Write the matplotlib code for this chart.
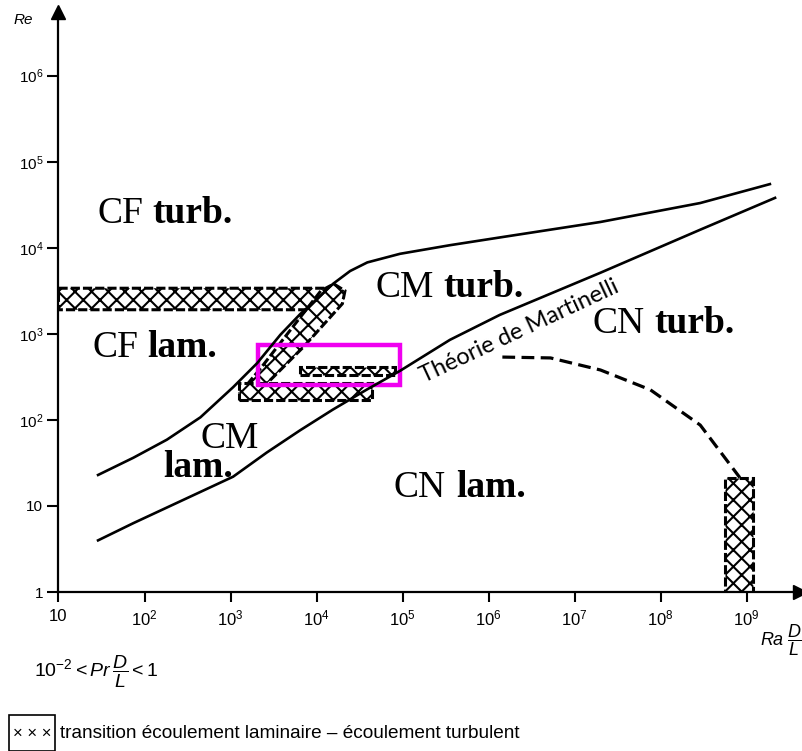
import numpy as np
import matplotlib.pyplot as plt
from matplotlib.patches import Rectangle
from matplotlib.ticker import FixedLocator, FixedFormatter, NullLocator

plt.rcParams['font.family'] = ['Liberation Sans', 'DejaVu Sans']
plt.rcParams['mathtext.fontset'] = 'custom'
plt.rcParams['mathtext.rm'] = 'Liberation Sans'
plt.rcParams['mathtext.it'] = 'Liberation Sans:italic'
plt.rcParams['hatch.linewidth'] = 1.5

# curves, as log10 values
upper_lx = [1.46, 1.87, 2.26, 2.65, 3.03, 3.31, 3.58, 3.81, 4.01, 4.19, 4.39, 4.59, 4.97, 5.55, 6.13, 7.30, 8.46, 9.27]
upper_ly = [1.36, 1.56, 1.77, 2.03, 2.38, 2.66, 2.99, 3.23, 3.41, 3.58, 3.73, 3.83, 3.93, 4.03, 4.12, 4.30, 4.52, 4.74]
lower_lx = [1.46, 1.87, 2.45, 3.03, 3.42, 3.81, 4.19, 4.58, 4.97, 5.55, 6.13, 7.30, 8.46, 9.33]
lower_ly = [0.60, 0.80, 1.07, 1.34, 1.62, 1.88, 2.12, 2.35, 2.57, 2.93, 3.22, 3.71, 4.21, 4.58]
dash_lx = [6.16, 6.72, 7.30, 7.88, 8.46, 8.92]
dash_ly = [2.73, 2.72, 2.58, 2.35, 1.94, 1.33]

# transition zones (log10 polygons)
cf_band_lx = [1.0, 4.15, 4.26, 4.30, 4.25, 4.15, 1.0]
cf_band_ly = [3.53, 3.53, 3.50, 3.41, 3.31, 3.28, 3.28]
cm_band_lx = [3.10, 3.35, 3.70, 4.05, 4.20, 4.33, 4.30, 3.85, 3.45, 3.25]
cm_band_ly = [2.30, 2.60, 3.05, 3.50, 3.58, 3.50, 3.35, 2.85, 2.45, 2.30]
cm_low_lx = [3.10, 4.65, 4.65, 3.10]
cm_low_ly = [2.23, 2.23, 2.43, 2.43]
cm_mid_lx = [3.81, 4.91, 4.91, 3.81]
cm_mid_ly = [2.52, 2.52, 2.62, 2.62]
cn_band_lx = [8.75, 9.07, 9.07, 8.75]
cn_band_ly = [0.0, 0.0, 1.33, 1.33]

# highlight box
box_lx = [3.32, 4.97]
box_ly = [2.41, 2.87]

x_ticks = [1, 2, 3, 4, 5, 6, 7, 8, 9]
x_labels = ['10'] + [r'$10^{%d}$' % k for k in range(2, 10)]
y_ticks = [0, 1, 2, 3, 4, 5, 6]
y_labels = ['1', '10'] + [r'$10^{%d}$' % k for k in range(2, 7)]

# region labels: (log x of left edge, log y of baseline, caps, lower-case part)
regions = [
    (1.45, 4.29, 'CF', 'turb.'),
    (1.39, 2.73, 'CF', 'lam.'),
    (4.68, 3.43, 'CM', 'turb.'),
    (7.21, 3.01, 'CN', 'turb.'),
    (4.90, 1.10, 'CN', 'lam.'),
]


def p(v):
    return 10 ** np.asarray(v, dtype=float)


fig = plt.figure(figsize=(8.02, 7.51), dpi=100)
ax = fig.add_axes([58.5 / 802, 159 / 751, 741.5 / 802, 580 / 751])
ax.set_xscale('log')
ax.set_yscale('log')
ax.set_xlim(p(1), p(9.62))
ax.set_ylim(p(0), p(6.74))

for s in ['top', 'right']:
    ax.spines[s].set_visible(False)
for s in ['left', 'bottom']:
    ax.spines[s].set_linewidth(1.6)

ax.xaxis.set_major_locator(FixedLocator(p(x_ticks)))
ax.xaxis.set_major_formatter(FixedFormatter(x_labels))
ax.yaxis.set_major_locator(FixedLocator(p(y_ticks)))
ax.yaxis.set_major_formatter(FixedFormatter(y_labels))
ax.xaxis.set_minor_locator(NullLocator())
ax.yaxis.set_minor_locator(NullLocator())
ax.tick_params(axis='x', length=7, width=1.5, labelsize=12, pad=5)
ax.tick_params(axis='y', length=8, width=1.5, labelsize=11, pad=3)

# axis arrows
ax.plot([0], [1], marker='^', ms=10, color='black', transform=ax.transAxes, clip_on=False)
ax.plot([1], [0], marker='>', ms=10, color='black', transform=ax.transAxes, clip_on=False)

# hatched transition zones
for lx, ly in [(cf_band_lx, cf_band_ly), (cm_band_lx, cm_band_ly), (cm_low_lx, cm_low_ly),
               (cm_mid_lx, cm_mid_ly), (cn_band_lx, cn_band_ly)]:
    ax.fill(p(lx), p(ly), facecolor='white', edgecolor='black', hatch='xx', linewidth=2.2,
            linestyle=(0, (3, 1)))

# boundary curves
ax.plot(p(upper_lx), p(upper_ly), color='black', lw=1.9)
ax.plot(p(lower_lx), p(lower_ly), color='black', lw=1.9)
ax.plot(p(dash_lx), p(dash_ly), color='black', lw=2.3, dashes=(4, 2))

# magenta highlight
ax.fill(p([box_lx[0], box_lx[1], box_lx[1], box_lx[0]]), p([box_ly[0], box_ly[0], box_ly[1], box_ly[1]]),
        facecolor='none', edgecolor='#f000f0', linewidth=3.2)

# region labels
serif = 'Liberation Serif'
for lx, ly, caps, low in regions:
    t = ax.text(p(lx), p(ly), caps, family=serif, fontsize=27, ha='left', va='baseline')
    ax.annotate(low, xy=(1, 0), xycoords=t, xytext=(7, 0), textcoords='offset points',
                family=serif, fontsize=27, fontweight='bold', ha='left', va='bottom')
ax.text(p(2.645), p(1.674), 'CM', family=serif, fontsize=27, ha='left', va='baseline')
ax.text(p(2.215), p(1.337), 'lam.', family=serif, fontsize=27, fontweight='bold', ha='left', va='baseline')

ax.text(p(6.36), p(3.03), 'Théorie de Martinelli', family='Lato', fontsize=17, rotation=25,
        ha='center', va='center', rotation_mode='anchor')

# axis titles
fig.text(14 / 802, 1 - 20 / 751, 'Re', style='italic', fontsize=11, va='center', ha='left')
fig.text(760 / 802, 1 - 640 / 751, r'$Ra\;\dfrac{D}{L}$', fontsize=13, va='center', ha='left')
fig.text(34 / 802, 1 - 672 / 751, r'$10^{-2} < Pr\,\dfrac{D}{L} < 1$', fontsize=14, va='center', ha='left')

# legend
fig.add_artist(Rectangle((9 / 802, 0), 46 / 802, 36 / 751, transform=fig.transFigure,
                         facecolor='white', edgecolor='black', linewidth=1.2))
fig.text(32 / 802, 1 - 733 / 751, '× × ×', fontsize=12, va='center', ha='center')
fig.text(60 / 802, 1 - 733 / 751, 'transition écoulement laminaire – écoulement turbulent',
         family=['Liberation Sans Narrow', 'Liberation Sans'], fontsize=13.7, va='center', ha='left')

fig.savefig('out.png', dpi=100)
